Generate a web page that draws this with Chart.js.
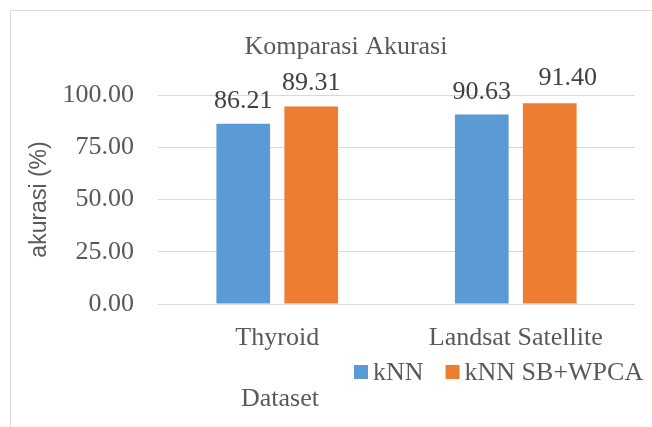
<!DOCTYPE html>
<html>
<head>
<meta charset="utf-8">
<script src="https://cdn.jsdelivr.net/npm/chart.js@4.4.1/dist/chart.umd.min.js"></script>
<style>
  html, body { margin: 0; padding: 0; background: #fff; overflow: hidden; }
  #frame { position: absolute; left: 10px; top: 10px; width: 700px; height: 500px; border: 1px solid #d9d9d9; }
  #wrap { position: absolute; left: 0; top: 0; width: 652px; height: 427px; }
</style>
</head>
<body>
<div id="frame"></div>
<div id="wrap"><canvas id="barChart" width="652" height="427"></canvas></div>
<script>
// Data
const categories = ['Thyroid', 'Landsat Satellite'];
const seriesNames = ['kNN', 'kNN SB+WPCA'];
const knnValues = [86.21, 90.63];
const knnSbWpcaValues = [94.5, 96.0];          // bar heights as drawn
const knnLabels = ['86.21', '90.63'];
const knnSbWpcaLabels = ['89.31', '91.40'];    // labels as printed
const yTicks = [0, 25, 50, 75, 100];

const serif = "'Liberation Serif', 'Times New Roman', serif";
const grey = '#595959';

// label nudges (px), same shape as the label arrays
const labelShift = [[[0, 0], [0, 0]], [[0, 0], [18, -2]]];

const extras = {
  id: 'extras',
  afterDatasetsDraw(chart) {
    const ctx = chart.ctx;
    ctx.save();
    ctx.font = '26px ' + serif;

    // data labels
    ctx.fillStyle = '#404040';
    ctx.textAlign = 'center';
    ctx.textBaseline = 'alphabetic';
    const allLabels = [knnLabels, knnSbWpcaLabels];
    chart.data.datasets.forEach((ds, di) => {
      chart.getDatasetMeta(di).data.forEach((bar, i) => {
        const s = labelShift[i][di];
        ctx.fillText(allLabels[di][i], bar.x + s[0], bar.y - 16 + s[1]);
      });
    });

    // title
    ctx.fillStyle = grey;
    ctx.fillText('Komparasi Akurasi', 346, 54);

    // x axis title
    ctx.fillText('Dataset', 280, 406);

    // legend
    ctx.textAlign = 'left';
    let x = 354;
    chart.data.datasets.forEach(ds => {
      ctx.fillStyle = ds.backgroundColor;
      ctx.fillRect(x, 365, 14, 14);
      ctx.fillStyle = grey;
      ctx.fillText(ds.label, x + 19, 380);
      x += 19 + ctx.measureText(ds.label).width + 22;
    });
    ctx.restore();
  }
};

const barCtx = document.getElementById('barChart').getContext('2d');
const barChart = new Chart(barCtx, {
  type: 'bar',
  data: {
    labels: categories,
    datasets: [{
      label: seriesNames[0],
      data: knnValues,
      backgroundColor: '#5b9bd5'
    }, {
      label: seriesNames[1],
      data: knnSbWpcaValues,
      backgroundColor: '#ed7d31'
    }]
  },
  options: {
    responsive: false,
    animation: false,
    categoryPercentage: 0.57,
    barPercentage: 0.79,
    layout: {
      padding: { left: 0, top: 95, right: 17, bottom: 0 }
    },
    plugins: {
      legend: { display: false },
      tooltip: { enabled: false }
    },
    scales: {
      x: {
        grid: { display: false },
        border: { display: false },
        ticks: {
          color: grey,
          font: { family: serif, size: 26 },
          padding: 11
        },
        afterFit(scale) { scale.height = 123; }
      },
      y: {
        min: 0,
        max: 100,
        afterBuildTicks(scale) { scale.ticks = yTicks.map(v => ({ value: v })); },
        grid: { color: '#d9d9d9', lineWidth: 1, drawTicks: false },
        border: { display: false },
        ticks: {
          color: grey,
          font: { family: serif, size: 26 },
          padding: 24,
          callback: v => v.toFixed(2)
        },
        title: {
          display: true,
          text: 'akurasi (%)',
          color: grey,
          font: { family: "'Liberation Sans', Arial, sans-serif", size: 23 },
          padding: { top: 26, bottom: 0 }
        },
        afterFit(scale) { scale.width = 158; }
      }
    }
  },
  plugins: [extras]
});
</script>
</body>
</html>
